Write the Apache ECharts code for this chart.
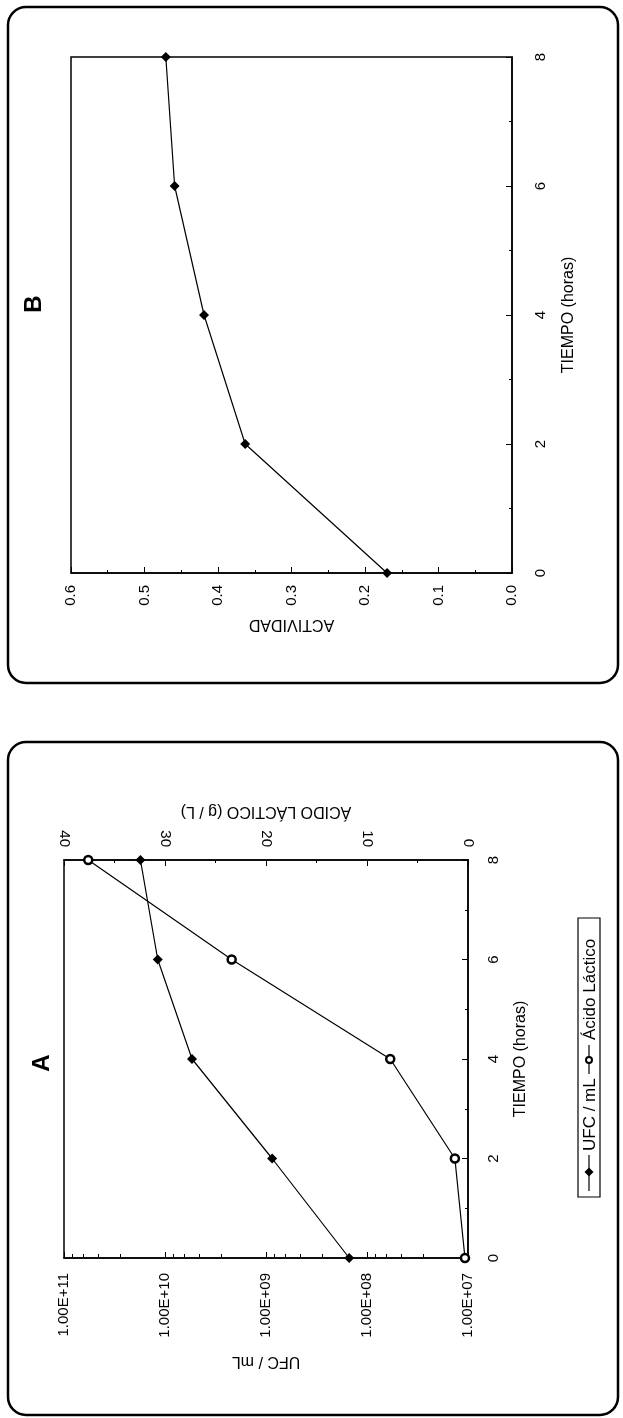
<!DOCTYPE html>
<html><head><meta charset="utf-8">
<script src="https://cdn.jsdelivr.net/npm/echarts@6/dist/echarts.min.js"></script>
<style>html,body{margin:0;padding:0;background:#fff}#c{width:623px;height:1418px}</style>
</head><body><div id="c"></div>
<script>
// ---- data ----
const hours = [0, 2, 4, 6, 8];
const actividad = [0.17, 0.363, 0.419, 0.459, 0.471];
const ufc = [1.5e8, 8.7e8, 5.4e9, 1.18e10, 1.75e10];
const acidoLactico = [0.3, 1.3, 7.7, 23.4, 37.6];
const ufcTicks = [1e7, 1e8, 1e9, 1e10, 1e11];
const ufcTickLabels = ['1.00E+07', '1.00E+08', '1.00E+09', '1.00E+10', '1.00E+11'];
const actTicks = [0, 0.1, 0.2, 0.3, 0.4, 0.5, 0.6];
const actTickLabels = ['0.0', '0.1', '0.2', '0.3', '0.4', '0.5', '0.6'];
const lacTicks = [0, 10, 20, 30, 40];
const lacTickLabels = ['0', '10', '20', '30', '40'];
const timeTickLabels = ['0', '2', '4', '6', '8'];
const serieUFC = 'UFC / mL';
const serieLac = 'Ácido Láctico';

const FONT = "'Liberation Sans', Arial, sans-serif";
const black = '#000';

function lookup(ticks, labels, v, log) {
  for (let i = 0; i < ticks.length; i++) {
    const a = log ? Math.log10(ticks[i]) : ticks[i];
    const b = log ? Math.log10(v) : v;
    if (Math.abs(a - b) < 1e-6) return labels[i];
  }
  return '';
}
function timeLabel(v) { return lookup(hours, timeTickLabels, v, false); }

const tickCommon = { inside: true, length: 6, lineStyle: { color: black, width: 1 } };
const minorCommon = { show: true, splitNumber: 2, length: 3, lineStyle: { color: black, width: 1 } };
const lineCommon = { show: true, lineStyle: { color: black, width: 1.5 } };
const labelCommon = { color: black, fontSize: 15, fontFamily: FONT, rotate: 90 };
const nameCommon = { color: black, fontSize: 16, fontFamily: FONT };

const chart = echarts.init(document.getElementById('c'), null, { renderer: 'canvas' });

const option = {
  animation: false,
  backgroundColor: '#fff',
  grid: [
    { left: 71, top: 57, width: 441, height: 516, show: true, borderColor: black, borderWidth: 1.5, backgroundColor: 'transparent' },
    { left: 64, top: 860, width: 404, height: 398, show: true, borderColor: black, borderWidth: 1.5, backgroundColor: 'transparent' }
  ],
  xAxis: [
    { // B: ACTIVIDAD
      type: 'value', gridIndex: 0, position: 'bottom', inverse: true,
      min: 0, max: 0.6, interval: 0.1,
      axisLine: lineCommon, axisTick: tickCommon, minorTick: minorCommon,
      splitLine: { show: false },
      axisLabel: Object.assign({}, labelCommon, { margin: 12, formatter: v => lookup(actTicks, actTickLabels, v, false) }),
      name: 'ACTIVIDAD', nameLocation: 'middle', nameRotate: 180, nameGap: 43,
      nameTextStyle: nameCommon
    },
    { // A: UFC / mL (log)
      type: 'log', logBase: 10, gridIndex: 1, position: 'bottom', inverse: true,
      min: 1e7, max: 1e11,
      axisLine: lineCommon, axisTick: tickCommon,
      minorTick: { show: true, splitNumber: 5, length: 4, lineStyle: { color: black, width: 1 } },
      splitLine: { show: false },
      axisLabel: Object.assign({}, labelCommon, { margin: 15, formatter: v => lookup(ufcTicks, ufcTickLabels, v, true) }),
      name: 'UFC / mL', nameLocation: 'middle', nameRotate: 180, nameGap: 95,
      nameTextStyle: nameCommon
    },
    { // A: Ácido Láctico
      type: 'value', gridIndex: 1, position: 'top', inverse: true,
      min: 0, max: 40, interval: 10,
      axisLine: lineCommon, axisTick: tickCommon, minorTick: minorCommon,
      splitLine: { show: false },
      axisLabel: Object.assign({}, labelCommon, { margin: 13, formatter: v => lookup(lacTicks, lacTickLabels, v, false) }),
      name: 'ÁCIDO LÁCTICO (g / L)', nameLocation: 'middle', nameRotate: 180, nameGap: 41,
      nameTextStyle: nameCommon
    }
  ],
  yAxis: [
    { // B: tiempo
      type: 'value', gridIndex: 0, position: 'right', min: 0, max: 8, interval: 2,
      axisLine: lineCommon, axisTick: tickCommon, minorTick: minorCommon,
      splitLine: { show: false },
      axisLabel: Object.assign({}, labelCommon, { margin: 21, formatter: timeLabel }),
      name: 'TIEMPO (horas)', nameLocation: 'middle', nameRotate: 90, nameGap: 49,
      nameTextStyle: nameCommon
    },
    { // A: tiempo
      type: 'value', gridIndex: 1, position: 'right', min: 0, max: 8, interval: 2,
      axisLine: lineCommon, axisTick: tickCommon, minorTick: minorCommon,
      splitLine: { show: false },
      axisLabel: Object.assign({}, labelCommon, { margin: 18, formatter: timeLabel }),
      name: 'TIEMPO (horas)', nameLocation: 'middle', nameRotate: 90, nameGap: 45,
      nameTextStyle: nameCommon
    }
  ],
  series: [
    {
      name: 'ACTIVIDAD', type: 'line', xAxisIndex: 0, yAxisIndex: 0,
      data: hours.map((h, i) => [actividad[i], h]),
      symbol: 'diamond', symbolSize: 10,
      lineStyle: { color: black, width: 1.2 }, itemStyle: { color: black },
      z: 5
    },
    {
      name: serieUFC, type: 'line', xAxisIndex: 1, yAxisIndex: 1,
      data: hours.map((h, i) => [ufc[i], h]),
      symbol: 'diamond', symbolSize: 10,
      lineStyle: { color: black, width: 1.2 }, itemStyle: { color: black },
      z: 5
    },
    {
      name: serieLac, type: 'line', xAxisIndex: 2, yAxisIndex: 1,
      data: hours.map((h, i) => [acidoLactico[i], h]),
      symbol: 'circle', symbolSize: 8,
      lineStyle: { color: black, width: 1.2 }, itemStyle: { color: '#fff', borderColor: black, borderWidth: 2.5 },
      z: 5
    }
  ],
  graphic: [
    { type: 'rect', shape: { x: 8, y: 7, width: 610, height: 676, r: 18 }, style: { fill: 'none', stroke: black, lineWidth: 2.5 }, z: 0 },
    { type: 'rect', shape: { x: 8, y: 742, width: 610, height: 673, r: 18 }, style: { fill: 'none', stroke: black, lineWidth: 2.5 }, z: 0 },
    { type: 'text', x: 34, y: 304, rotation: Math.PI / 2,
      style: { text: 'B', fill: black, font: 'bold 24px ' + FONT, textAlign: 'center', textVerticalAlign: 'middle' } },
    { type: 'text', x: 42, y: 1063, rotation: Math.PI / 2,
      style: { text: 'A', fill: black, font: 'bold 24px ' + FONT, textAlign: 'center', textVerticalAlign: 'middle' } },
    { // legend of panel A, rotated to read bottom-to-top
      type: 'group', x: 589, y: 1197, rotation: Math.PI / 2,
      children: [
        { type: 'rect', shape: { x: 0, y: -11, width: 279, height: 22 }, style: { fill: '#fff', stroke: black, lineWidth: 1.2 } },
        { type: 'line', shape: { x1: 6, y1: 0, x2: 42, y2: 0 }, style: { stroke: black, lineWidth: 1.2 } },
        { type: 'polygon', shape: { points: [[25, -4.5], [29.5, 0], [25, 4.5], [20.5, 0]] }, style: { fill: black } },
        { type: 'text', x: 46, y: 1, style: { text: serieUFC, fill: black, font: '17px ' + FONT, textAlign: 'left', textVerticalAlign: 'middle' } },
        { type: 'line', shape: { x1: 123, y1: 0, x2: 152, y2: 0 }, style: { stroke: black, lineWidth: 1.2 } },
        { type: 'circle', shape: { cx: 137, cy: 0, r: 3 }, style: { fill: '#fff', stroke: black, lineWidth: 2 } },
        { type: 'text', x: 157, y: 1, style: { text: serieLac, fill: black, font: '17px ' + FONT, textAlign: 'left', textVerticalAlign: 'middle' } }
      ]
    }
  ]
};
chart.setOption(option);
</script>
</body></html>
